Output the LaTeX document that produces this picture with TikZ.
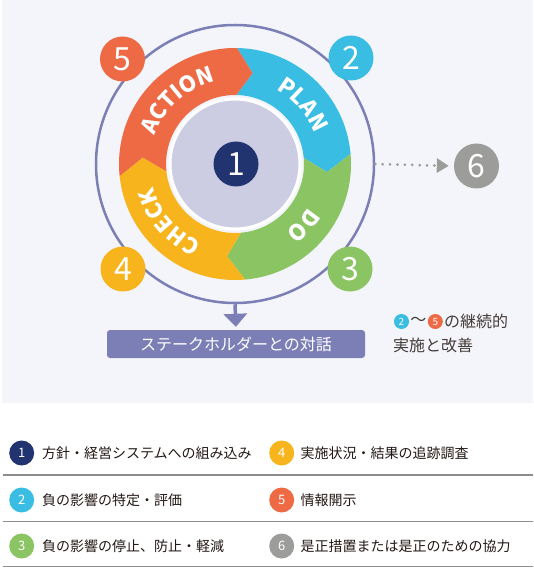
\documentclass[tikz,border=0pt]{standalone}
\usepackage{fontspec}
\setmainfont{Noto Sans CJK JP}
\usetikzlibrary{arrows.meta,positioning,decorations.text}
\definecolor{actred}{HTML}{EE6A45}
\definecolor{planblue}{HTML}{3ABDE3}
\definecolor{dogreen}{HTML}{8BC462}
\definecolor{checkyellow}{HTML}{F7B41C}
\definecolor{loopviolet}{HTML}{7C7FB6}
\definecolor{hubgray}{HTML}{CCCCE3}
\definecolor{navy}{HTML}{22346F}
\definecolor{sixgray}{HTML}{9C9C9B}
\definecolor{paper}{HTML}{F4F5FA}
\definecolor{ink}{HTML}{231815}
\definecolor{rulegray}{HTML}{8C8C8C}
\newcommand{\ringseg}[3]{\fill[#1] (#2:116) arc[start angle=#2,end angle=#3,radius=116]
  -- ({#3-10}:92.5) -- (#3:69) arc[start angle=#3,end angle=#2,radius=69] -- ({#2-10}:92.5) -- cycle;}
\newcommand{\ringfont}{\bfseries\fontsize{22}{22}\selectfont\color{white}}
\newcommand{\ringword}[3]{\path[decorate,decoration={text along path,text align=center,
  text={|\ringfont|#3}}] (#1:85) arc[start angle=#1,end angle=#2,radius=85];}
\tikzset{
  numdot/.style={circle,minimum size=45,inner sep=0,text=white,font=\fontsize{32}{32}\selectfont},
  smalldot/.style={circle,minimum size=15,inner sep=0,text=white,font=\fontsize{10}{10}\selectfont},
  legdot/.style={circle,minimum size=25,inner sep=0,text=white,font=\fontsize{13}{13}\selectfont},
  legtext/.style={inner sep=0,text=ink,font=\fontsize{14}{14}\selectfont},
  sidetext/.style={inner sep=0,text=ink!85,font=\fontsize{16}{16}\selectfont}
}
\begin{document}
\begin{tikzpicture}[x=1pt,y=1pt]
  \useasboundingbox (0,0) rectangle (533,-569);
  \fill[paper] (2,0) rectangle (533,-403);
  \node[circle,draw=loopviolet,line width=2.5,minimum size=278,inner sep=0] (loop) at (235,-164) {};
  \begin{scope}[shift={(235,-164)}]
    \ringseg{planblue}{89}{5}
    \ringseg{dogreen}{5}{-85}
    \ringseg{checkyellow}{-85}{-174}
    \ringseg{actred}{186}{89}
    \ringword{176}{88}{ACTION}
    \ringword{85}{-3}{PLAN}
    \ringword{3}{-87}{DO}
    \ringword{-95}{-183}{CHECK}
  \end{scope}
  \node[circle,fill=hubgray,draw=white,line width=3,minimum size=130,inner sep=0] (hub) at (235,-164) {};
  \node[numdot,fill=navy] (n1) at (236,-164) {1};
  \node[numdot,fill=actred] (n5) at (122.5,-59) {5};
  \node[numdot,fill=planblue] (n2) at (351,-58) {2};
  \node[numdot,fill=checkyellow] (n4) at (123,-269) {4};
  \node[numdot,fill=dogreen] (n3) at (350,-269) {3};
  \node[numdot,fill=sixgray] (n6) at (476.5,-166) {6};
  \draw[sixgray,line width=3,line cap=round,dash pattern=on 0pt off 7.4pt,
    -{Triangle[length=12,width=14]},shorten >=5] (loop.east) -- (n6.west);
  \node[fill=loopviolet,rounded corners=3,minimum width=258,minimum height=28,inner sep=0,
    text=white,font=\fontsize{16}{16}\selectfont] (talk) at (236,-344) {ステークホルダーとの対話};
  \draw[loopviolet,line width=3.5,-{Triangle[length=13,width=23]},shorten >=3] (loop.south) -- (talk.north);
  \node[smalldot,fill=planblue] (s2) at (401.5,-321.5) {2};
  \node[sidetext,right=1pt of s2] (wave) {～};
  \node[smalldot,fill=actred,right=1pt of wave] (s5) {5};
  \node[sidetext,right=1pt of s5] (cont) {の継続的};
  \node[sidetext,anchor=west] (impr) at (393,-345) {実施と改善};
  \node[legdot,fill=navy] (l1) at (21.7,-453) {1};
  \node[legdot,fill=planblue] (l2) at (21.7,-500) {2};
  \node[legdot,fill=dogreen] (l3) at (21.7,-546) {3};
  \node[legdot,fill=checkyellow] (l4) at (281.7,-453) {4};
  \node[legdot,fill=actred] (l5) at (281.7,-500) {5};
  \node[legdot,fill=sixgray] (l6) at (281.7,-546) {6};
  \node[legtext,right=7.5pt of l1] (t1) {方針・経営システムへの組み込み};
  \node[legtext,right=7.5pt of l2] (t2) {負の影響の特定・評価};
  \node[legtext,right=7.5pt of l3] (t3) {負の影響の停止、防止・軽減};
  \node[legtext,right=6pt of l4] (t4) {実施状況・結果の追跡調査};
  \node[legtext,right=6pt of l5] (t5) {情報開示};
  \node[legtext,right=6pt of l6] (t6) {是正措置または是正のための協力};
  \draw[rulegray,line width=1.5] (3,-475) -- (533,-475);
  \draw[rulegray,line width=1.5] (3,-521.5) -- (533,-521.5);
  \draw[rulegray,line width=1.5] (3,-566.5) -- (533,-566.5);
\end{tikzpicture}
\end{document}
